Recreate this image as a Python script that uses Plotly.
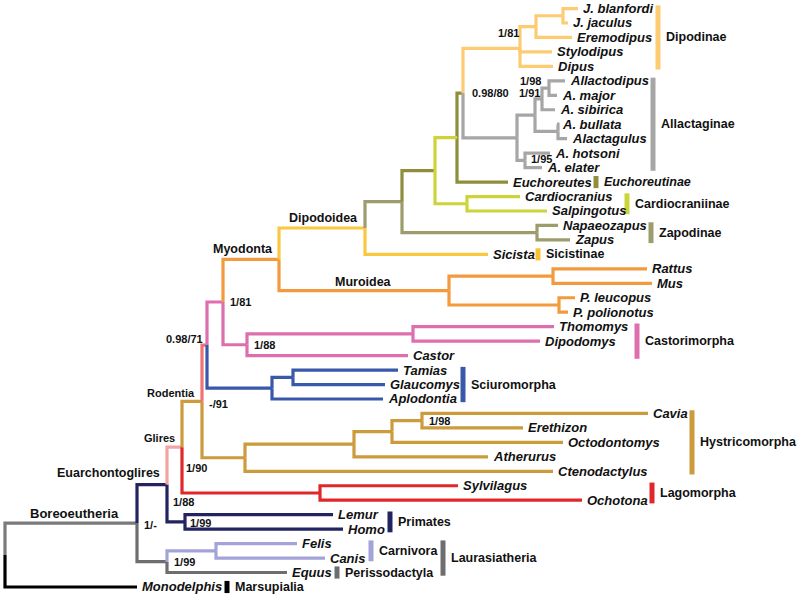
import plotly.graph_objects as go

# ---------------- tree data ----------------
# internal nodes: name, parent, depth (x)
node_names = ["root", "Boreo", "Euarch", "Glires", "Rodentia", "N0971", "N181", "Myodonta",
              "Dipodoidea", "N402", "N435", "N457", "N463", "Dipodinae", "JE", "JJ",
              "Allact", "N535", "N542", "N548", "N558", "N525", "Cardio", "Zapod",
              "Muroid", "RM", "PP", "Castori", "TD", "Sciuro", "TG", "Hystri", "N354",
              "N392", "CE", "Lago", "Primates", "Laura", "Carniv"]
node_parents = [None, "root", "Boreo", "Euarch", "Glires", "Rodentia", "N0971", "N181",
                "Myodonta", "Dipodoidea", "N402", "N435", "N457", "N463", "Dipodinae", "JE",
                "N463", "Allact", "N535", "N542", "N535", "Allact", "N435", "N402",
                "Myodonta", "Muroid", "Muroid", "N181", "Castori", "N0971", "Sciuro", "Rodentia", "Hystri",
                "N354", "N392", "Glires", "Euarch", "Boreo", "Laura"]
node_depth = [5, 137, 167, 182, 202, 207, 223, 279,
              365, 402, 435, 457, 463, 520, 536, 563,
              517, 535, 542, 549, 558, 525, 467, 537,
              449, 553, 559, 247, 413, 272, 293, 245, 354,
              392, 422, 320, 185, 167, 216]

# tips in row order (top to bottom)
tip_names = ["J. blanfordi", "J. jaculus", "Eremodipus", "Stylodipus", "Dipus",
             "Allactodipus", "A. major", "A. sibirica", "A. bullata", "Alactagulus",
             "A. hotsoni", "A. elater", "Euchoreutes", "Cardiocranius", "Salpingotus",
             "Napaeozapus", "Zapus", "Sicista", "Rattus", "Mus", "P. leucopus",
             "P. polionotus", "Thomomys", "Dipodomys", "Castor", "Tamias", "Glaucomys",
             "Aplodontia", "Cavia", "Erethizon", "Octodontomys", "Atherurus",
             "Ctenodactylus", "Sylvilagus", "Ochotona", "Lemur", "Homo", "Felis",
             "Canis", "Equus", "Monodelphis"]
tip_parents = ["JJ", "JJ", "JE", "Dipodinae", "Dipodinae",
               "N548", "N548", "N542", "N558", "N558",
               "N525", "N525", "N457", "Cardio", "Cardio",
               "Zapod", "Zapod", "Dipodoidea", "RM", "RM", "PP",
               "PP", "TD", "TD", "Castori", "TG", "TG",
               "Sciuro", "CE", "CE", "N392", "N354",
               "Hystri", "Lago", "Lago", "Primates", "Primates", "Carniv",
               "Carniv", "Laura", "root"]
tip_depth = [578, 568, 572, 552, 553,
             565, 557, 555, 557, 567,
             550, 542, 508, 520, 547,
             558, 570, 488, 647, 652, 575,
             568, 554, 540, 408, 398, 385,
             383, 648, 523, 563, 488,
             553, 458, 582, 333, 343, 297,
             325, 287, 137]

# branch colours (descendants inherit unless overridden)
branch_color = {
    "Boreo": "#7a7a7a", "Monodelphis": "#000000", "Euarch": "#23235f",
    "Laura": "#6e6e6e", "Carniv": "#a3a3d9", "Glires": "#f4a3a3",
    "Lago": "#e0282a", "Rodentia": "#cc9b3c", "N0971": "#ee7373",
    "N181": "#dd6faf", "Sciuro": "#3a58aa", "Myodonta": "#f39a3f",
    "Dipodoidea": "#f9c840", "N402": "#9c9c6c", "N435": "#8e8e3c",
    "N457": "#cdd43a", "Cardio": "#cdd43a", "N463": "#8e8e3c",
    "Euchoreutes": "#8e8e3c", "Dipodinae": "#fdcb72", "Allact": "#a6a6a6",
}

# clade bars
clade_names = ["Dipodinae", "Allactaginae", "Euchoreutinae", "Cardiocraniinae", "Zapodinae",
               "Sicistinae", "Castorimorpha", "Sciuromorpha", "Hystricomorpha", "Lagomorpha",
               "Primates", "Carnivora", "Perissodactyla", "Laurasiatheria", "Marsupialia"]
clade_first = ["J. blanfordi", "Allactodipus", "Euchoreutes", "Cardiocranius", "Napaeozapus",
               "Sicista", "Thomomys", "Tamias", "Cavia", "Sylvilagus",
               "Lemur", "Felis", "Equus", "Felis", "Monodelphis"]
clade_last = ["Dipus", "A. elater", "Euchoreutes", "Salpingotus", "Zapus",
              "Sicista", "Castor", "Aplodontia", "Ctenodactylus", "Ochotona",
              "Homo", "Canis", "Equus", "Equus", "Monodelphis"]
clade_bar_x = [658, 653, 596, 627, 651, 538, 637, 463, 692, 652, 390, 371, 337, 443, 227]
clade_colors = ["#fdcb72", "#a6a6a6", "#8e8e3c", "#cdd43a", "#9c9c6c", "#f9c22e", "#dd6faf",
                "#3a58aa", "#cc9b3c", "#e0282a", "#23235f", "#a3a3d9", "#6e6e6e", "#6e6e6e",
                "#000000"]
clade_italic = [False, False, True, False, False, False, False, False, False, False,
                False, False, False, False, False]

# internal node labels: node, text, anchor, xshift, yshift, size
node_labels = [
    ("Boreo", "Boreoeutheria", "center", -63, 10, 13),
    ("Boreo", "1/-", "left", 5, -2, 11),
    ("Euarch", "Euarchontoglires", "right", -5, 12, 12.5),
    ("Euarch", "1/88", "left", 4, -17, 11),
    ("Glires", "Glires", "right", -5, 9, 11),
    ("Glires", "1/90", "left", 2, -21, 11),
    ("Rodentia", "Rodentia", "right", -5, 8, 11),
    ("Rodentia", "-/91", "left", 5, -3, 11),
    ("N0971", "0.98/71", "right", -2, 6, 11),
    ("N181", "1/81", "left", 5, 0, 11),
    ("Castori", "1/88", "left", 5, 0, 11),
    ("Myodonta", "Myodonta", "right", -4, 10, 12.5),
    ("Dipodoidea", "Dipodoidea", "right", -5, 10, 12.5),
    ("Muroid", "Muroidea", "center", -86, 9, 12.5),
    ("N463", "0.98/80", "left", 7, 0, 11),
    ("Dipodinae", "1/81", "right", 1, 15, 11),
    ("N548", "1/98", "right", -6, 7, 11),
    ("N542", "1/91", "right", 0, 6, 11),
    ("N525", "1/95", "left", 4, 1, 11),
    ("CE", "1/98", "left", 5, 0, 11),
    ("Primates", "1/99", "left", 3, -1, 11),
    ("Laura", "1/99", "left", 5, 0, 11),
]

# ---------------- layout computation ----------------
parent = {}
depth = {}
for n, p, d in zip(node_names, node_parents, node_depth):
    parent[n] = p
    depth[n] = d
ypos = {}
for i, (n, p, d) in enumerate(zip(tip_names, tip_parents, tip_depth)):
    parent[n] = p
    depth[n] = d
    ypos[n] = i

children = {}
for n, p in parent.items():
    if p is not None:
        children.setdefault(p, []).append(n)


def get_y(n):
    if n in ypos:
        return ypos[n]
    ys = [get_y(c) for c in children[n]]
    ypos[n] = sum(ys) / len(ys)
    return ypos[n]


get_y("root")


def get_color(n):
    while n is not None:
        if n in branch_color:
            return branch_color[n]
        n = parent[n]
    return "#000000"


segs = {}
for n, p in parent.items():
    if p is None:
        continue
    c = get_color(n)
    xs, ys = segs.setdefault(c, ([], []))
    xs += [depth[p], depth[p], depth[n], None]
    ys += [ypos[p], ypos[n], ypos[n], None]

fig = go.Figure()
for c, (xs, ys) in segs.items():
    fig.add_trace(go.Scatter(x=xs, y=ys, mode="lines",
                             line=dict(color=c, width=3.2),
                             hoverinfo="skip", showlegend=False))

FONT = "Liberation Sans, Arial, sans-serif"
ann = []
for n in tip_names:
    ann.append(dict(x=depth[n], y=ypos[n], text="<b><i>%s</i></b>" % n,
                    xanchor="left", yanchor="middle", xshift=3, showarrow=False,
                    font=dict(family=FONT, size=13, color="#111")))

pad_multi, pad_single = 0.22, 0.42
for name, f, l, bx, col, it in zip(clade_names, clade_first, clade_last, clade_bar_x,
                                    clade_colors, clade_italic):
    y0, y1 = ypos[f], ypos[l]
    pad = pad_single if f == l else pad_multi
    fig.add_trace(go.Scatter(x=[bx, bx], y=[y0 - pad, y1 + pad], mode="lines",
                             line=dict(color=col, width=5), hoverinfo="skip",
                             showlegend=False))
    txt = "<b><i>%s</i></b>" % name if it else "<b>%s</b>" % name
    ann.append(dict(x=bx, y=(y0 + y1) / 2, text=txt, xanchor="left", yanchor="middle",
                    xshift=6, showarrow=False,
                    font=dict(family=FONT, size=12.5, color="#111")))

for n, t, anc, xs, ysh, sz in node_labels:
    ann.append(dict(x=depth[n], y=ypos[n], text="<b>%s</b>" % t, xanchor=anc,
                    yanchor="middle", xshift=xs, yshift=ysh, showarrow=False,
                    font=dict(family=FONT, size=sz, color="#111")))

fig.update_layout(
    width=799, height=600,
    margin=dict(l=0, r=0, t=0, b=0),
    paper_bgcolor="white", plot_bgcolor="white",
    xaxis=dict(range=[0, 799], visible=False, fixedrange=True),
    yaxis=dict(range=[40.9, -0.59], visible=False, fixedrange=True),
    annotations=ann,
    showlegend=False,
)
fig.write_html("out.html", config={"displayModeBar": False},
               post_script="document.body.style.margin='0';document.body.style.padding='0';")
